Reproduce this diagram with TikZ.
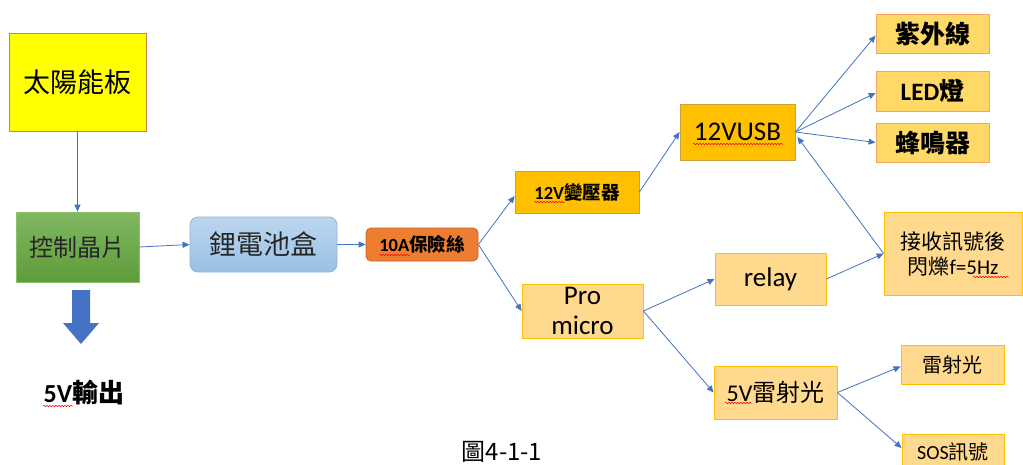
\documentclass[tikz,border=0pt]{standalone}
\usepackage{fontspec}
\setmainfont{Carlito}
\newfontfamily\zh{Noto Sans CJK TC}
\usetikzlibrary{arrows.meta,decorations.pathmorphing}
\definecolor{arrowblue}{HTML}{4472C4}
\definecolor{sunfill}{HTML}{FFFF00}
\definecolor{sunline}{HTML}{C9844F}
\definecolor{greentop}{HTML}{80B862}
\definecolor{greenbot}{HTML}{5E9C3A}
\definecolor{greenline}{HTML}{8CC06A}
\definecolor{bluetop}{HTML}{BDD6EE}
\definecolor{bluebot}{HTML}{99C0E6}
\definecolor{blueline}{HTML}{8DB6E2}
\definecolor{fusefill}{HTML}{ED7D31}
\definecolor{fuseline}{HTML}{C0642A}
\definecolor{goldfill}{HTML}{FFC000}
\definecolor{goldline}{HTML}{C9A23A}
\definecolor{lightfill}{HTML}{FFD966}
\definecolor{lightline}{HTML}{F4A460}
\definecolor{paleorange}{HTML}{FFD98E}
\definecolor{paleline}{HTML}{FFC000}
\definecolor{darktext}{HTML}{262626}
\definecolor{spellred}{HTML}{FF0000}
\tikzset{
  box/.style={draw, line width=0.8pt, inner sep=0pt, align=center, text=black, anchor=center},
  arr/.style={-{Triangle[length=7pt,width=6pt]}, draw=arrowblue, line width=0.8pt},
  spell/.style={draw=spellred, line width=0.5pt, decorate, decoration={snake, amplitude=0.7pt, segment length=3pt}}
}
\begin{document}
\begin{tikzpicture}[x=1pt,y=-1pt]
\useasboundingbox (0,0) rectangle (1023,464);
\fill[white] (0,0) rectangle (1023,464);

% nodes
\node[box, draw=sunline, fill=sunfill, minimum width=137pt, minimum height=98pt,
      font=\zh\fontsize{27}{31}\selectfont] (sun) at (77.5,82) {太陽能板};
\node[box, draw=greenline, top color=greentop, bottom color=greenbot, minimum width=123pt, minimum height=70pt,
      text=darktext, font=\zh\fontsize{24}{28}\selectfont] (ctrl) at (77.5,247) {控制晶片};
\node[box, draw=blueline, top color=bluetop, bottom color=bluebot, rounded corners=8pt, minimum width=147pt, minimum height=55pt,
      text=darktext, font=\zh\fontsize{27}{31}\selectfont] (batt) at (263.5,244.5) {鋰電池盒};
\node[box, draw=fuseline, fill=fusefill, rounded corners=5pt, minimum width=112pt, minimum height=33pt,
      font=\bfseries\fontsize{18.5}{22}\selectfont] (fuse) at (422,244.5) {10A{\zh 保險絲}};
\node[box, draw=goldline, fill=goldfill, minimum width=124pt, minimum height=42pt,
      font=\bfseries\fontsize{18.5}{22}\selectfont] (trans) at (577,192) {12V{\zh 變壓器}};
\node[box, draw=paleline, fill=paleorange, minimum width=121pt, minimum height=54pt,
      font=\fontsize{27}{30}\selectfont] (pro) at (582.5,311) {Pro\\micro};
\node[box, draw=goldline, fill=goldfill, minimum width=115pt, minimum height=56pt,
      font=\fontsize{27}{31}\selectfont] (usb) at (737.5,132) {12VUSB};
\node[box, draw=lightline, fill=lightfill, minimum width=113pt, minimum height=39pt,
      font=\zh\bfseries\fontsize{25}{29}\selectfont] (uv) at (932.5,33.5) {紫外線};
\node[box, draw=lightline, fill=lightfill, minimum width=113pt, minimum height=40pt,
      font=\bfseries\fontsize{25}{29}\selectfont] (led) at (932.5,91) {LED{\zh 燈}};
\node[box, draw=lightline, fill=lightfill, minimum width=113pt, minimum height=39pt,
      font=\zh\bfseries\fontsize{25}{29}\selectfont] (buzz) at (932.5,142.5) {蜂鳴器};
\node[box, draw=paleline, fill=paleorange, minimum width=138pt, minimum height=83pt,
      font=\fontsize{21}{25}\selectfont] (recv) at (953,253.5) {{\zh 接收訊號後}\\{\zh 閃爍}f=5Hz};
\node[box, draw=paleline, fill=paleorange, minimum width=111pt, minimum height=52pt,
      font=\fontsize{27}{31}\selectfont] (relay) at (770.5,279) {relay};
\node[box, draw=paleline, fill=paleorange, minimum width=123pt, minimum height=53pt,
      font=\fontsize{24}{28}\selectfont] (laserv) at (775.5,392.5) {5V{\zh 雷射光}};
\node[box, draw=paleline, fill=paleorange, minimum width=103pt, minimum height=39pt,
      font=\zh\fontsize{20}{24}\selectfont] (laser) at (952.5,364.5) {雷射光};
\node[box, draw=paleline, fill=paleorange, minimum width=102pt, minimum height=36pt,
      font=\fontsize{20}{24}\selectfont] (sos) at (953,452) {SOS{\zh 訊號}};

% block arrow (5V output)
\fill[arrowblue] (72,290) -- (90,290) -- (90,323) -- (99,323) -- (81,344) -- (63,323) -- (72,323) -- cycle;
\node[inner sep=0pt, font=\bfseries\fontsize{26}{30}\selectfont] (out) at (84,393) {5V{\zh 輸出}};
\node[inner sep=0pt, font=\zh\fontsize{24}{28}\selectfont] (cap) at (502,452) {圖4-1-1};

% connectors
\draw[arr] (sun.south) -- (ctrl.north);
\draw[arr] (ctrl.east) -- (batt.west);
\draw[arr] (batt.east) -- (fuse.west);
\draw[arr] (fuse.east) -- ([yshift=-4pt]trans.west);
\draw[arr] (fuse.east) -- (pro.west);
\draw[arr] (trans.east) -- (usb.west);
\draw[arr] (usb.east) -- ([yshift=-2pt]uv.west);
\draw[arr] (usb.east) -- ([yshift=-2pt]led.west);
\draw[arr] (usb.east) -- (buzz.west);
\draw[arr] (recv.west) -- ([xshift=2pt,yshift=-5pt]usb.east);
\draw[arr] (pro.east) -- (relay.west);
\draw[arr] (relay.east) -- (recv.west);
\draw[arr] (pro.east) -- (laserv.west);
\draw[arr] (laserv.east) -- ([yshift=-2pt]laser.west);
\draw[arr] (laserv.east) -- ([yshift=4pt]sos.west);

% spell-check underlines
\draw[spell] (379,255) -- (410,255);
\draw[spell] (534,202) -- (565,202);
\draw[spell] (693,144) -- (783,144);
\draw[spell] (973,277) -- (1009,277);
\draw[spell] (725,403) -- (752,403);
\draw[spell] (43,406) -- (73,406);
\end{tikzpicture}
\end{document}
